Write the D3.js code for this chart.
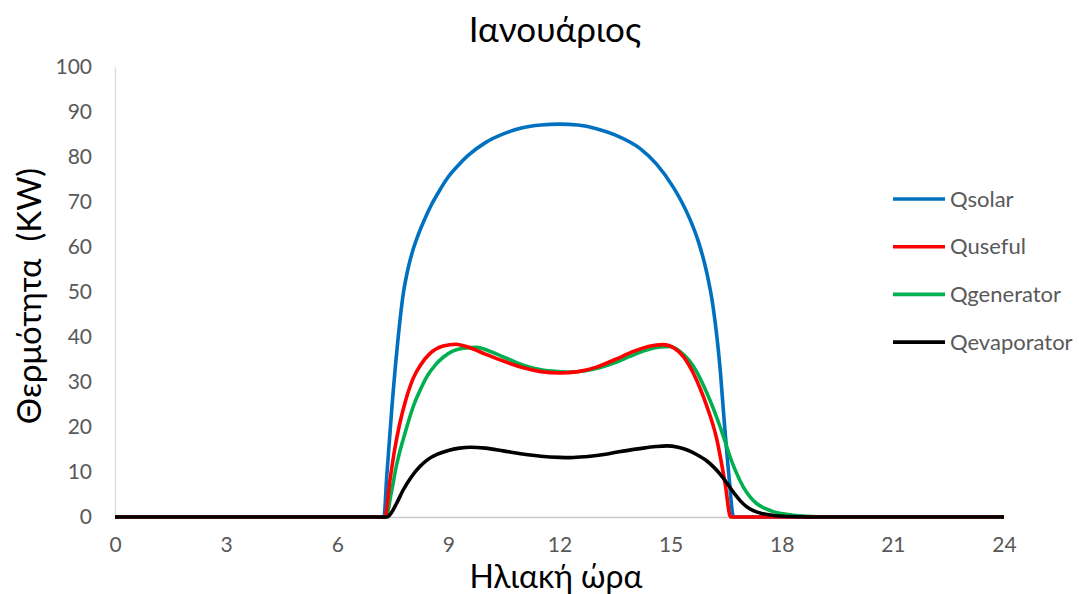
<!DOCTYPE html>
<html>
<head>
<meta charset="utf-8">
<script src="https://cdn.jsdelivr.net/npm/d3@7"></script>
<style>
  html, body { margin: 0; padding: 0; background: #fff; }
  svg { display: block; font-family: Lato, "Open Sans", "Noto Sans", sans-serif; }
</style>
</head>
<body>
<svg id="chart" width="1079" height="594"></svg>
<script>
// Heat flows over a January day (solar hour vs kW)
const xTicks = [0, 3, 6, 9, 12, 15, 18, 21, 24];
const yTicks = [0, 10, 20, 30, 40, 50, 60, 70, 80, 90, 100];

const seriesNames = ["Qsolar", "Quseful", "Qgenerator", "Qevaporator"];
const seriesColors = ["#0070C0", "#FF0000", "#00B050", "#000000"];

const solarHours  = [0, 7.26, 7.335, 7.47, 7.63, 7.78, 7.92, 8.05, 8.19, 8.35, 8.55, 8.75, 9.0, 9.25, 9.54, 10.0, 10.5, 11.0, 11.5, 12.0, 12.5, 13.0, 13.5, 14.17, 14.62, 15.07, 15.3, 15.52, 15.75, 15.97, 16.15, 16.33, 16.45, 16.57, 16.7, 24];
const solarValues = [0, 0, 8.9, 23.8, 38.7, 49.5, 55.5, 59.5, 62.8, 66, 69.5, 72.4, 75.6, 78, 80.4, 83.2, 85.2, 86.5, 87.1, 87.3, 87.1, 86.3, 84.9, 81.9, 78.4, 73.3, 70.0, 66.2, 61.2, 54.5, 46.5, 33.5, 21, 9.5, 0, 0];

const usefulHours  = [0, 7.29, 7.42, 7.55, 7.68, 7.85, 8.05, 8.25, 8.5, 8.86, 9.2, 9.58, 10.0, 10.5, 11.0, 11.5, 12.0, 12.5, 13.0, 13.5, 14.0, 14.4, 14.8, 15.1, 15.35, 15.61, 15.8, 15.97, 16.24, 16.47, 16.62, 24];
const usefulValues = [0, 0, 8, 15, 20.5, 26, 30.8, 33.8, 36.3, 38, 38.4, 37.6, 36.2, 34.6, 33.2, 32.3, 32.0, 32.3, 33.3, 35, 36.8, 37.9, 38.3, 37.5, 35.6, 32, 28.5, 24.8, 17.5, 7.5, 0, 0];

const generatorHours  = [0, 7.32, 7.45, 7.6, 7.86, 8.05, 8.2, 8.42, 8.65, 8.86, 9.1, 9.4, 9.77, 10.1, 10.48, 11.0, 11.5, 12.0, 12.28, 12.7, 13.1, 13.5, 13.9, 14.3, 14.71, 15.0, 15.25, 15.5, 15.7, 15.9, 16.06, 16.25, 16.45, 16.6, 16.75, 16.96, 17.15, 17.32, 17.55, 17.77, 18.05, 18.31, 18.7, 19.2, 24];
const generatorValues = [0, 0, 5, 11.5, 19.5, 24.5, 27.5, 31.2, 33.8, 35.5, 36.8, 37.5, 37.7, 36.9, 35.6, 33.8, 32.7, 32.3, 32.2, 32.5, 33.2, 34.3, 35.7, 37, 37.8, 37.9, 36.8, 34.8, 32.3, 29, 26, 22, 17.3, 13.5, 10.3, 6.7, 4.4, 3, 1.9, 1.2, 0.7, 0.4, 0.15, 0, 0];

const evaporatorHours  = [0, 7.34, 7.45, 7.6, 7.78, 8.0, 8.23, 8.45, 8.69, 9.0, 9.3, 9.6, 10.0, 10.48, 11.0, 11.5, 12.0, 12.3, 12.7, 13.2, 13.6, 14.17, 14.6, 14.9, 15.2, 15.45, 15.7, 15.97, 16.15, 16.33, 16.47, 16.6, 16.75, 16.87, 17.05, 17.23, 17.5, 17.77, 18.2, 18.7, 24];
const evaporatorValues = [0, 0, 0.8, 3, 6, 8.9, 11.2, 12.8, 13.9, 14.8, 15.3, 15.5, 15.3, 14.7, 14.0, 13.5, 13.25, 13.2, 13.4, 13.9, 14.5, 15.2, 15.65, 15.8, 15.5, 14.9, 13.9, 12.5, 11.2, 9.6, 8.1, 6.6, 4.9, 3.7, 2.3, 1.4, 0.7, 0.35, 0.1, 0, 0];

const hoursBySeries  = [solarHours, usefulHours, generatorHours, evaporatorHours];
const valuesBySeries = [solarValues, usefulValues, generatorValues, evaporatorValues];

const svg = d3.select("#chart");
const plot = { left: 115, right: 1004, top: 67, bottom: 517 };

const x = d3.scaleLinear().domain([0, 24]).range([plot.left, plot.right]);
const y = d3.scaleLinear().domain([0, 100]).range([plot.bottom, plot.top]);

const labelFont = "Lato, 'Open Sans', 'Noto Sans', sans-serif";

// Title
svg.append("text")
  .attr("x", 555).attr("y", 42)
  .attr("text-anchor", "middle")
  .attr("font-size", 35)
  .attr("fill", "#000")
  .text("Ιανουάριος");

// Y axis: plain gray line with gray labels
const yAxis = svg.append("g")
  .attr("transform", `translate(${plot.left},0)`)
  .call(d3.axisLeft(y).tickValues(yTicks).tickSize(0).tickPadding(23));
yAxis.select(".domain").attr("stroke", "#d9d9d9").attr("stroke-width", 1.3);
yAxis.selectAll("text").attr("font-size", 21).attr("fill", "#595959")
  .attr("font-family", labelFont);

// X axis
const xAxis = svg.append("g")
  .attr("transform", `translate(0,${plot.bottom})`)
  .call(d3.axisBottom(x).tickValues(xTicks).tickSize(0).tickPadding(20));
xAxis.select(".domain").attr("stroke", "#c8c8c8").attr("stroke-width", 1.3);
xAxis.selectAll("text").attr("font-size", 21).attr("fill", "#595959")
  .attr("font-family", labelFont);

// Axis titles
svg.append("text")
  .attr("transform", "translate(41,296) rotate(-90)")
  .attr("text-anchor", "middle")
  .attr("font-size", 33)
  .attr("fill", "#000")
  .attr("xml:space", "preserve")
  .text("Θερμότητα  (KW)");

svg.append("text")
  .attr("x", 556).attr("y", 588)
  .attr("text-anchor", "middle")
  .attr("font-size", 32)
  .attr("fill", "#000")
  .text("Ηλιακή ώρα");

// Series lines
const line = d3.line()
  .x(d => x(d[0]))
  .y(d => y(d[1]))
  .curve(d3.curveMonotoneX);

const drawOrder = [0, 2, 1, 3];
drawOrder.forEach(i => {
  const pts = hoursBySeries[i].map((h, k) => [h, valuesBySeries[i][k]]);
  svg.append("path")
    .datum(pts)
    .attr("fill", "none")
    .attr("stroke", seriesColors[i])
    .attr("stroke-width", 3.6)
    .attr("stroke-linejoin", "round")
    .attr("d", line);
});

// Legend
const legend = svg.append("g");
seriesNames.forEach((name, i) => {
  const ly = 199 + i * 47.7;
  legend.append("line")
    .attr("x1", 893).attr("x2", 945)
    .attr("y1", ly).attr("y2", ly)
    .attr("stroke", seriesColors[i])
    .attr("stroke-width", 3.6);
  legend.append("text")
    .attr("x", 950).attr("y", ly + 7.5)
    .attr("font-size", 22)
    .attr("fill", "#595959")
    .text(name);
});
</script>
</body>
</html>
